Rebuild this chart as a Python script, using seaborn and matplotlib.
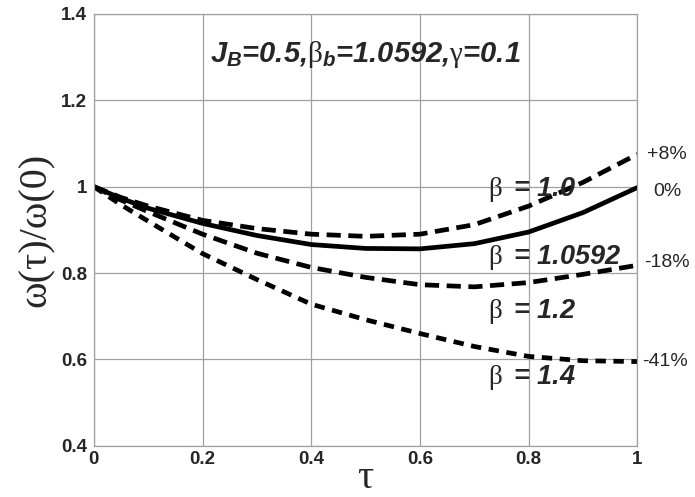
import numpy as np
import matplotlib
matplotlib.use('Agg')
import matplotlib.pyplot as plt
import seaborn as sns
import pandas as pd

tau = [0.0, 0.05, 0.1, 0.2, 0.3, 0.4, 0.5, 0.6, 0.7, 0.8, 0.9, 1.0]
w_b10 = [1.0, 0.975, 0.955, 0.922, 0.903, 0.890, 0.885, 0.890, 0.912, 0.955, 1.010, 1.075]
w_b10592 = [1.0, 0.973, 0.950, 0.915, 0.887, 0.866, 0.857, 0.856, 0.868, 0.895, 0.940, 0.998]
w_b12 = [1.0, 0.969, 0.942, 0.890, 0.846, 0.813, 0.790, 0.773, 0.768, 0.778, 0.797, 0.818]
w_b14 = [1.0, 0.958, 0.920, 0.845, 0.785, 0.728, 0.692, 0.660, 0.630, 0.607, 0.597, 0.595]

betas = ['1.0', '1.0592', '1.2', '1.4']
changes = ['+8%', '0%', '-18%', '-41%']

df = pd.DataFrame({'tau': tau * 4,
                   'w': w_b10 + w_b10592 + w_b12 + w_b14,
                   'beta': [b for b in betas for _ in tau]})

sns.set_style('white')
plt.rcParams['font.family'] = ['Liberation Sans', 'DejaVu Sans']
plt.rcParams['mathtext.fontset'] = 'custom'
plt.rcParams['mathtext.rm'] = 'Liberation Serif'
plt.rcParams['mathtext.it'] = 'Liberation Sans:bold:italic'
plt.rcParams['mathtext.bf'] = 'Liberation Sans:bold:italic'

fig, ax = plt.subplots(figsize=(6.95, 4.97), dpi=100)
fig.subplots_adjust(left=0.135, right=0.917, top=0.972, bottom=0.103)

styles = {'1.0': (3, 1.6), '1.0592': '', '1.2': (3, 1.6), '1.4': (2.2, 1.6)}
for b in betas:
    sub = df[df['beta'] == b]
    sns.lineplot(data=sub, x='tau', y='w', ax=ax, color='black',
                 linewidth=3.4, legend=False)
    l = ax.lines[-1]
    if styles[b]:
        l.set_dashes(styles[b])

ax.set_xlim(0, 1)
ax.set_ylim(0.4, 1.4)
ax.set_xticks([0, 0.2, 0.4, 0.6, 0.8, 1.0])
ax.set_xticklabels(['0', '0.2', '0.4', '0.6', '0.8', '1'])
ax.set_yticks([0.4, 0.6, 0.8, 1.0, 1.2, 1.4])
ax.set_yticklabels(['0.4', '0.6', '0.8', '1', '1.2', '1.4'])
ax.tick_params(length=0, labelsize=13.5)
ax.tick_params(axis='x', pad=4)
ax.tick_params(axis='y', pad=5)
for t in ax.get_xticklabels() + ax.get_yticklabels():
    t.set_fontweight('bold')
ax.grid(True, color='#a0a0a0', linewidth=0.9)
for s in ax.spines.values():
    s.set_color('#a0a0a0')
    s.set_linewidth(0.9)

ax.set_xlabel('τ', family='Liberation Serif', fontsize=29, labelpad=-6)
ax.set_ylabel('ω(τ)/ω(0)', family='Liberation Serif', fontsize=29, labelpad=4)

ax.text(0.5, 1.305, r'$J_{B}$=0.5,$\mathrm{\beta}_{b}$=1.0592,$\mathrm{\gamma}$=0.1',
        ha='center', va='center', fontsize=21, fontweight='bold', style='italic')

label_y = [0.993, 0.836, 0.711, 0.558]
for b, yy in zip(betas, label_y):
    ax.text(0.726, yy, r'$\mathrm{\beta}\,$ = ' + b, ha='left', va='center',
            fontsize=19.5, fontweight='bold', style='italic')

pct_x = [1.018, 1.03, 1.013, 1.009]
pct_y = [1.074, 0.988, 0.824, 0.595]
for c, xx, yy in zip(changes, pct_x, pct_y):
    ax.text(xx, yy, c, ha='left', va='center', fontsize=14, clip_on=False)

fig.savefig('out.png', dpi=100)
